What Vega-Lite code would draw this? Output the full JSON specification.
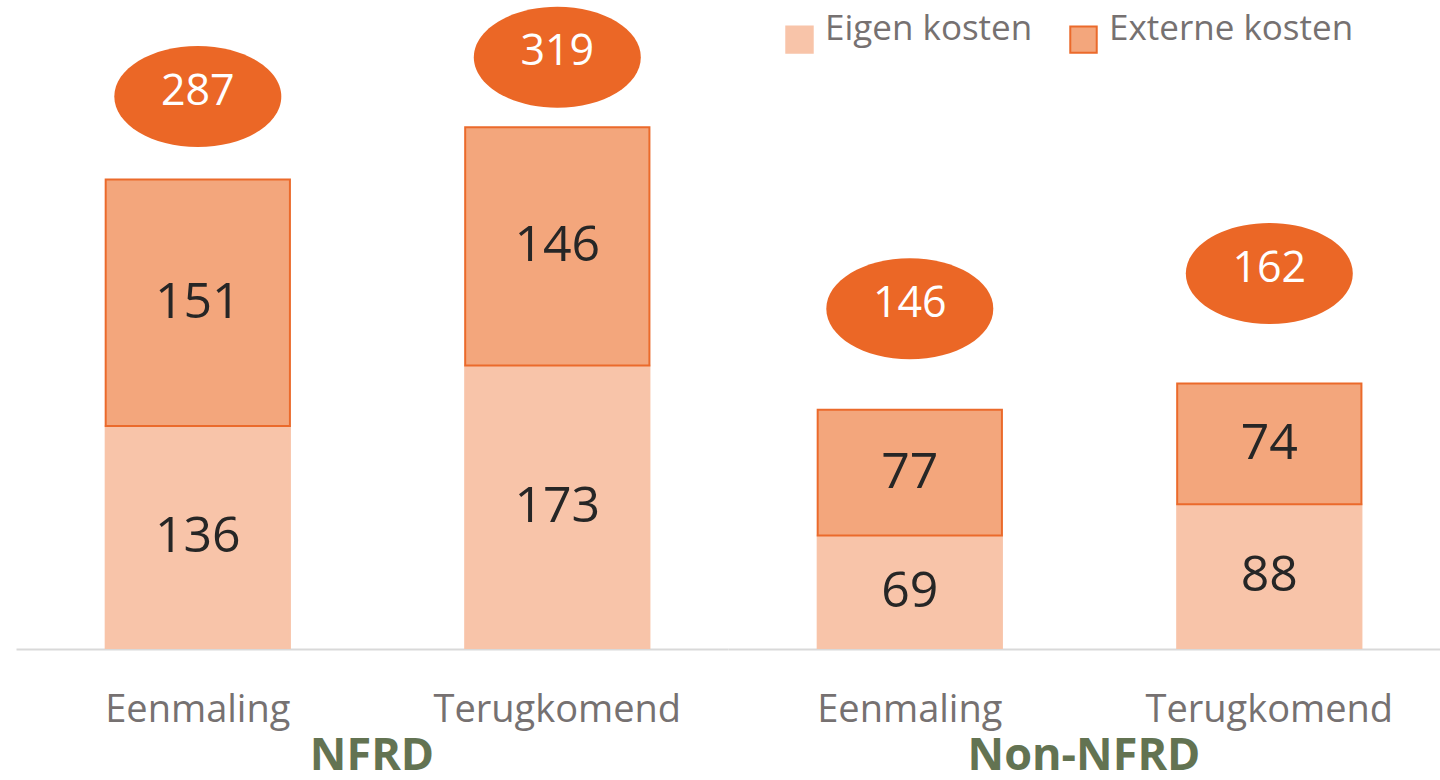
{
  "$schema": "https://vega.github.io/schema/vega-lite/v6.json",
  "padding": {"left": 16, "top": 0, "right": 0, "bottom": 0},
  "background": "white",
  "config": {
    "view": {"stroke": null},
    "font": "Open Sans"
  },
  "data": {
    "values": [
      {"group": "NFRD", "cat": "Eenmaling", "type": "Eigen kosten", "value": 136},
      {"group": "NFRD", "cat": "Eenmaling", "type": "Externe kosten", "value": 151},
      {"group": "NFRD", "cat": "Terugkomend", "type": "Eigen kosten", "value": 173},
      {"group": "NFRD", "cat": "Terugkomend", "type": "Externe kosten", "value": 146},
      {"group": "Non-NFRD", "cat": "Eenmaling", "type": "Eigen kosten", "value": 69},
      {"group": "Non-NFRD", "cat": "Eenmaling", "type": "Externe kosten", "value": 77},
      {"group": "Non-NFRD", "cat": "Terugkomend", "type": "Eigen kosten", "value": 88},
      {"group": "Non-NFRD", "cat": "Terugkomend", "type": "Externe kosten", "value": 74}
    ]
  },
  "spacing": 0,
  "facet": {
    "column": {
      "field": "group",
      "type": "nominal",
      "sort": ["NFRD", "Non-NFRD"],
      "header": {
        "title": null,
        "labelOrient": "bottom",
        "labelFont": "Open Sans",
        "labelFontSize": 45,
        "labelFontWeight": "bold",
        "labelColor": "#637352",
        "labelPadding": 5,
        "labelLimit": 0
      }
    }
  },
  "spec": {
    "width": 712,
    "height": 648,
    "encoding": {
      "x": {
        "field": "cat",
        "type": "nominal",
        "sort": ["Eenmaling", "Terugkomend"],
        "scale": {"paddingInner": 0.4875, "paddingOuter": 0.234, "align": 0.533},
        "axis": {
          "title": null,
          "labelAngle": 0,
          "ticks": false,
          "domainColor": "#D9D9D9",
          "domainWidth": 2,
          "labelFontSize": 38,
          "labelColor": "#767171",
          "labelPadding": 42,
          "labelLimit": 0,
          "labelFont": "Open Sans"
        }
      }
    },
    "layer": [
      {
        "mark": {"type": "bar", "strokeWidth": 2},
        "encoding": {
          "y": {
            "aggregate": "sum",
            "field": "value",
            "type": "quantitative",
            "stack": "zero",
            "scale": {"domain": [0, 397], "nice": false, "zero": true},
            "axis": null
          },
          "color": {
            "field": "type",
            "type": "nominal",
            "scale": {"domain": ["Eigen kosten", "Externe kosten"], "range": ["#F8C4A9", "#F3A67C"]},
            "legend": {
              "title": null,
              "orient": "none",
              "legendX": 766,
              "legendY": 22,
              "direction": "horizontal",
              "symbolType": "square",
              "symbolSize": 700,
              "symbolStrokeWidth": 2,
              "labelFontSize": 35,
              "labelFont": "Open Sans",
              "labelColor": "#767171",
              "labelOffset": 8,
              "labelLimit": 0,
              "labelBaseline": "alphabetic",
              "columnPadding": 33
            }
          },
          "stroke": {
            "field": "type",
            "type": "nominal",
            "scale": {"domain": ["Eigen kosten", "Externe kosten"], "range": ["#F8C4A9", "#EB6A2B"]},
            "legend": null
          },
          "order": {"field": "type", "sort": "ascending"}
        }
      },
      {
        "transform": [
          {"stack": "value", "groupby": ["group", "cat"], "sort": [{"field": "type", "order": "ascending"}], "as": ["v0", "v1"]},
          {"calculate": "(datum.v0 + datum.v1) / 2", "as": "mid"}
        ],
        "mark": {"type": "text", "fontSize": 50, "color": "#262626", "baseline": "middle", "font": "Open Sans"},
        "encoding": {
          "y": {"field": "mid", "type": "quantitative"},
          "text": {"field": "value", "type": "quantitative"}
        }
      },
      {
        "transform": [{"filter": "datum.group == 'NFRD' && datum.cat == 'Eenmaling'"}],
        "encoding": {
          "y": {"aggregate": "sum", "field": "value", "type": "quantitative"}
        },
        "layer": [
          {"mark": {"type": "point", "filled": true, "opacity": 1, "shape": "M-1,0A1,0.605,0,1,1,1,0A1,0.605,0,1,1,-1,0Z", "size": 27889, "color": "#EB6726", "yOffset": -83}},
          {"mark": {"type": "text", "fontSize": 43, "color": "white", "baseline": "middle", "font": "Open Sans", "yOffset": -88},
           "encoding": {"text": {"aggregate": "sum", "field": "value", "type": "quantitative"}}}
        ]
      },
      {
        "transform": [{"filter": "datum.group == 'NFRD' && datum.cat == 'Terugkomend'"}],
        "encoding": {
          "y": {"aggregate": "sum", "field": "value", "type": "quantitative"}
        },
        "layer": [
          {"mark": {"type": "point", "filled": true, "opacity": 1, "shape": "M-1,0A1,0.605,0,1,1,1,0A1,0.605,0,1,1,-1,0Z", "size": 27889, "color": "#EB6726", "yOffset": -70}},
          {"mark": {"type": "text", "fontSize": 43, "color": "white", "baseline": "middle", "font": "Open Sans", "yOffset": -75},
           "encoding": {"text": {"aggregate": "sum", "field": "value", "type": "quantitative"}}}
        ]
      },
      {
        "transform": [{"filter": "datum.group == 'Non-NFRD' && datum.cat == 'Eenmaling'"}],
        "encoding": {
          "y": {"aggregate": "sum", "field": "value", "type": "quantitative"}
        },
        "layer": [
          {"mark": {"type": "point", "filled": true, "opacity": 1, "shape": "M-1,0A1,0.605,0,1,1,1,0A1,0.605,0,1,1,-1,0Z", "size": 27889, "color": "#EB6726", "yOffset": -101}},
          {"mark": {"type": "text", "fontSize": 43, "color": "white", "baseline": "middle", "font": "Open Sans", "yOffset": -106},
           "encoding": {"text": {"aggregate": "sum", "field": "value", "type": "quantitative"}}}
        ]
      },
      {
        "transform": [{"filter": "datum.group == 'Non-NFRD' && datum.cat == 'Terugkomend'"}],
        "encoding": {
          "y": {"aggregate": "sum", "field": "value", "type": "quantitative"}
        },
        "layer": [
          {"mark": {"type": "point", "filled": true, "opacity": 1, "shape": "M-1,0A1,0.605,0,1,1,1,0A1,0.605,0,1,1,-1,0Z", "size": 27889, "color": "#EB6726", "yOffset": -110}},
          {"mark": {"type": "text", "fontSize": 43, "color": "white", "baseline": "middle", "font": "Open Sans", "yOffset": -115},
           "encoding": {"text": {"aggregate": "sum", "field": "value", "type": "quantitative"}}}
        ]
      }
    ]
  }
}
